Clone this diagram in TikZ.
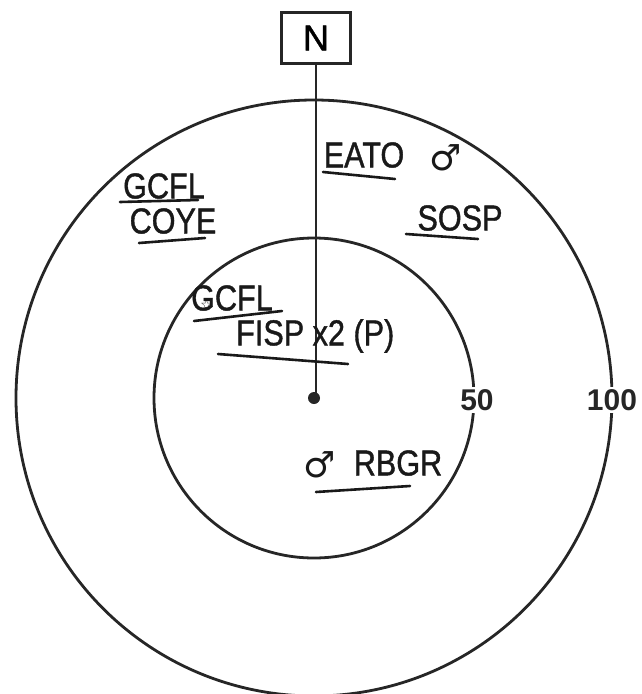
\documentclass[tikz,border=0pt]{standalone}
\usepackage{fontspec}
\setmainfont{Liberation Sans}
\newfontfamily\symfont{DejaVu Sans}
\newfontfamily\handfont[FakeBold=1.2]{Liberation Sans}
\begin{document}
\begin{tikzpicture}[x=1pt,y=-1pt,
  ring/.style={draw=black!85,line width=2.8pt},
  hand/.style={font=\handfont\fontsize{36}{38}\selectfont,inner sep=0pt,anchor=center,xscale=0.85,text=black!90},
  msym/.style={font=\symfont\fontsize{36}{38}\selectfont,inner sep=0pt,text=black!90},
  uline/.style={draw=black!90,line width=2.6pt,line cap=round},
  dist/.style={font=\fontsize{30}{32}\selectfont\bfseries,fill=white,inner sep=2pt,text=black!85}]
\useasboundingbox (0,0) rectangle (642,694);
\coordinate (c) at (314,398);
\draw[ring] (c) circle[radius=298];
\draw[ring] (c) circle[radius=160];
\node[dist] (l50) at (477,400) {50};
\node[dist] (l100) at (612,400) {100};
\node[draw=black!85,line width=2.6pt,minimum width=69pt,minimum height=51pt,inner sep=0pt,font=\handfont\fontsize{36}{38}\selectfont] (n) at (316,38) {N};
\fill[black!85] (c) circle[radius=6];
\draw[black!85,line width=2.6pt] (n.south) -- (n.south |- c);
% outer ring labels
\node[hand] (eato) at (364,155) {EATO};
\node[msym] (m1) at (446,158) {♂};
\draw[uline] (323,172) -- (395,179);
\node[hand] (sosp) at (460,218) {SOSP};
\draw[uline] (406,234) -- (478,239);
\node[hand] (gcfl1) at (164,186) {GCFL};
\draw[uline] (120,202) -- (198,200);
\node[hand] (coye) at (173,221) {COYE};
\draw[uline] (139,243) -- (205,238);
% inner ring labels
\node[hand] (gcfl2) at (232,298) {G\makebox[0pt][r]{\symfont\fontsize{16}{18}\selectfont ☆\kern3pt}CFL};
\draw[uline] (194,321) -- (282,311);
\node[hand,anchor=west] (fisp) at (236,336) {FISP x2 (P)};
\draw[uline] (218,354) -- (348,364);
\node[msym] (m2) at (320,465) {♂};
\node[hand] (rbgr) at (398,463) {RBGR};
\draw[uline] (316,492) -- (410,486);
\end{tikzpicture}
\end{document}
